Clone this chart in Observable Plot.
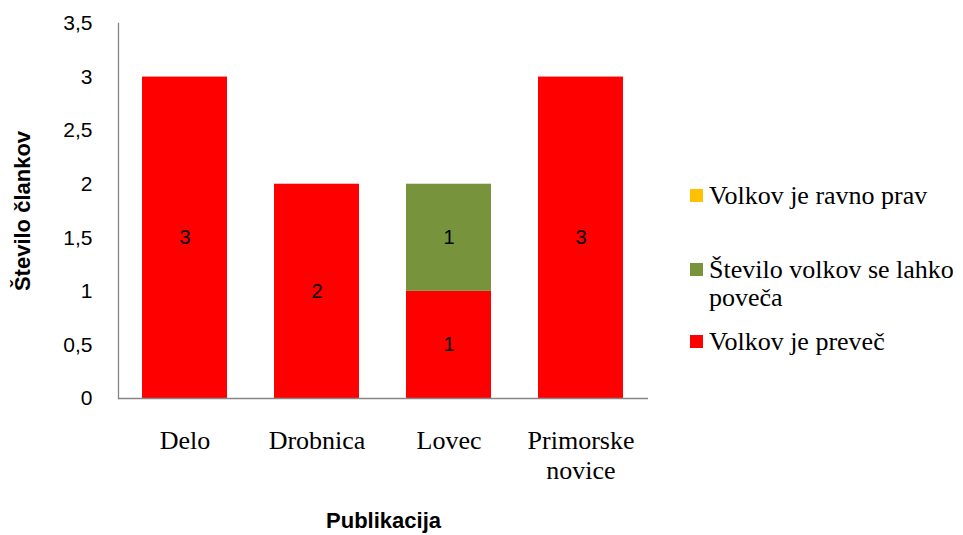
<!DOCTYPE html>
<html><head><meta charset="utf-8">
<script src="https://cdn.jsdelivr.net/npm/d3@7"></script>
<script src="https://cdn.jsdelivr.net/npm/@observablehq/plot@0.6"></script>
<style>
body{margin:0;background:#fff;}
#wrap{position:relative;width:963px;height:535px;overflow:hidden;}
#legend{position:absolute;left:690px;top:0;width:273px;font-family:"Liberation Serif","Times New Roman",serif;font-size:26px;line-height:28px;color:#000;}
.item{position:absolute;left:0;display:flex;align-items:flex-start;width:273px;}
.sw{width:13px;height:13px;margin-top:7px;margin-right:6px;flex:none;}
[aria-label="x-axis tick label"]{font-family:"Liberation Serif","Times New Roman",serif;font-size:26px;fill:#000;}
[aria-label="y-axis tick label"]{font-family:"Liberation Sans",Arial,sans-serif;font-size:21px;fill:#000;}
[aria-label="x-axis label"]{font-family:"Liberation Sans",Arial,sans-serif;font-size:22px;font-weight:bold;fill:#000;}
[aria-label="y-axis label"]{font-family:"Liberation Sans",Arial,sans-serif;font-size:22px;font-weight:bold;fill:#000;}
</style>
</head><body>
<div id="wrap"><div id="chart"></div><div id="legend"></div></div>
<script>
const categories = ["Delo", "Drobnica", "Lovec", "Primorske novice"];
const seriesNames = ["Volkov je preveč", "Število volkov se lahko poveča", "Volkov je ravno prav"];
const seriesColors = ["#FF0000", "#77933C", "#FFC000"];
const valuesPrevec = [3, 2, 1, 3];
const valuesPoveca = [0, 0, 1, 0];
const valuesRavnoPrav = [0, 0, 0, 0];
const yTicks = [0, 0.5, 1, 1.5, 2, 2.5, 3, 3.5];

const seriesValues = [valuesPrevec, valuesPoveca, valuesRavnoPrav];
const rows = [];
seriesNames.forEach((s, si) => categories.forEach((c, ci) => rows.push({pub: c, series: s, value: seriesValues[si][ci]})));

const chart = Plot.plot({
  width: 963,
  height: 535,
  marginLeft: 118,
  marginRight: 315,
  marginTop: 23,
  marginBottom: 137,
  style: {background: "transparent"},
  x: {domain: categories, paddingInner: 0.355, paddingOuter: 0.18, label: null},
  y: {domain: [0, 3.5], label: null},
  color: {domain: seriesNames, range: seriesColors},
  marks: [
    Plot.barY(rows, {x: "pub", y: "value", fill: "series", z: "series"}),
    Plot.text(rows.filter(d => d.value > 0), Plot.stackY({x: "pub", y: "value", z: "series", text: d => String(d.value), fill: "#000", fontSize: 20, fontFamily: "Liberation Sans, Arial, sans-serif"})),
    Plot.ruleY([0], {stroke: "#868686", strokeWidth: 1.3}),
    Plot.frame({anchor: "left", stroke: "#868686", strokeWidth: 1.3}),
    Plot.axisY({ticks: yTicks, tickSize: 0, tickPadding: 26, tickFormat: d => String(d).replace(".", ","), label: "Število člankov", labelArrow: "none", labelAnchor: "center", labelOffset: 104}),
    Plot.axisX({tickSize: 0, tickPadding: 29, lineHeight: 1.15, tickFormat: d => d.replace(" ", "\n"), label: "Publikacija", labelArrow: "none", labelAnchor: "center", labelOffset: 129})
  ]
});
document.getElementById("chart").appendChild(chart);

const legend = document.getElementById("legend");
const legendTops = [182, 256, 328];
[2, 1, 0].forEach((si, k) => {
  const it = document.createElement("div");
  it.className = "item";
  it.style.top = legendTops[k] + "px";
  const sw = document.createElement("div");
  sw.className = "sw";
  sw.style.background = seriesColors[si];
  const tx = document.createElement("div");
  tx.textContent = seriesNames[si];
  it.appendChild(sw); it.appendChild(tx);
  legend.appendChild(it);
});
</script>
</body></html>
